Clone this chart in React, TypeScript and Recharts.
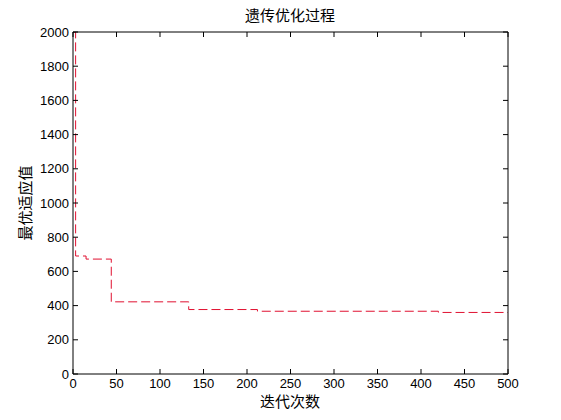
import { LineChart, Line, XAxis, YAxis } from "recharts";

// generations where the best fitness changes, and the value from there on
const generations = [0, 3, 15, 44, 133, 212, 420, 500];
const bestFitness = [2000, 690, 672, 422, 377, 367, 360, 360];

const xTicks = [0, 50, 100, 150, 200, 250, 300, 350, 400, 450, 500];
const yTicks = [0, 200, 400, 600, 800, 1000, 1200, 1400, 1600, 1800, 2000];

const title = "遗传优化过程";
const xLabel = "迭代次数";
const yLabel = "最优适应值";

const data = generations.map((g, i) => ({ gen: g, fitness: bestFitness[i] }));

const TICK_LEN = 5;
const LABEL_GAP = 4;
const tickFont = { fontFamily: "'Liberation Sans', Arial, sans-serif", fontSize: 13, fill: "#000" };
const cjkFont = "'Noto Sans CJK SC', sans-serif";

// MATLAB style: tick marks point into the plot box
const BottomTick = ({ x, y, payload }: any) => (
  <g>
    <line x1={x} y1={y - LABEL_GAP} x2={x} y2={y - LABEL_GAP - TICK_LEN} stroke="#000" />
    <text x={x} y={y} dy="0.75em" textAnchor="middle" {...tickFont}>
      {payload.value}
    </text>
  </g>
);

const LeftTick = ({ x, y, payload }: any) => (
  <g>
    <line x1={x + LABEL_GAP} y1={y} x2={x + LABEL_GAP + TICK_LEN} y2={y} stroke="#000" />
    <text x={x} y={y} dy="0.36em" textAnchor="end" {...tickFont}>
      {payload.value}
    </text>
  </g>
);

const TopTick = ({ x, y }: any) => <line x1={x} y1={y} x2={x} y2={y + TICK_LEN} stroke="#000" />;

const RightTick = ({ x, y }: any) => <line x1={x} y1={y} x2={x - TICK_LEN} y2={y} stroke="#000" />;

const labelStyle = {
  position: "absolute" as const,
  width: 200,
  textAlign: "center" as const,
  fontFamily: cjkFont,
  fontSize: 15,
  lineHeight: "16px",
  color: "#000",
};

export default function App() {
  return (
    <div style={{ position: "absolute", left: 0, top: 0, width: 561, height: 420, background: "#fff" }}>
      <LineChart width={561} height={420} data={data} margin={{ top: 31, right: 52, bottom: 16, left: 0 }}>
        <XAxis
          xAxisId="bottom"
          dataKey="gen"
          type="number"
          domain={[0, 500]}
          ticks={xTicks}
          height={30}
          tickSize={0}
          tickMargin={LABEL_GAP}
          tickLine={false}
          axisLine={{ stroke: "#000" }}
          tick={<BottomTick />}
          interval={0}
        />
        <XAxis
          xAxisId="top"
          orientation="top"
          dataKey="gen"
          type="number"
          domain={[0, 500]}
          ticks={xTicks}
          height={1}
          tickSize={0}
          tickMargin={0}
          tickLine={false}
          axisLine={{ stroke: "#000" }}
          tick={<TopTick />}
          interval={0}
        />
        <YAxis
          yAxisId="left"
          type="number"
          domain={[0, 2000]}
          ticks={yTicks}
          width={73}
          tickSize={0}
          tickMargin={LABEL_GAP}
          tickLine={false}
          axisLine={{ stroke: "#000" }}
          tick={<LeftTick />}
          interval={0}
          allowDataOverflow
        />
        <YAxis
          yAxisId="right"
          orientation="right"
          type="number"
          domain={[0, 2000]}
          ticks={yTicks}
          width={1}
          tickSize={0}
          tickMargin={0}
          tickLine={false}
          axisLine={{ stroke: "#000" }}
          tick={<RightTick />}
          interval={0}
        />
        <Line
          xAxisId="bottom"
          yAxisId="left"
          type="stepAfter"
          dataKey="fitness"
          stroke="#e01030"
          strokeWidth={1}
          strokeDasharray="9 4"
          dot={false}
          isAnimationActive={false}
        />
        <Line
          xAxisId="top"
          yAxisId="right"
          type="stepAfter"
          dataKey="fitness"
          stroke="transparent"
          dot={false}
          activeDot={false}
          isAnimationActive={false}
        />
      </LineChart>
      <div style={{ ...labelStyle, left: 190, top: 7 }}>{title}</div>
      <div style={{ ...labelStyle, left: 190, top: 393 }}>{xLabel}</div>
      <div style={{ ...labelStyle, left: 25 - 100, top: 203 - 8, transform: "rotate(-90deg)" }}>{yLabel}</div>
    </div>
  );
}
